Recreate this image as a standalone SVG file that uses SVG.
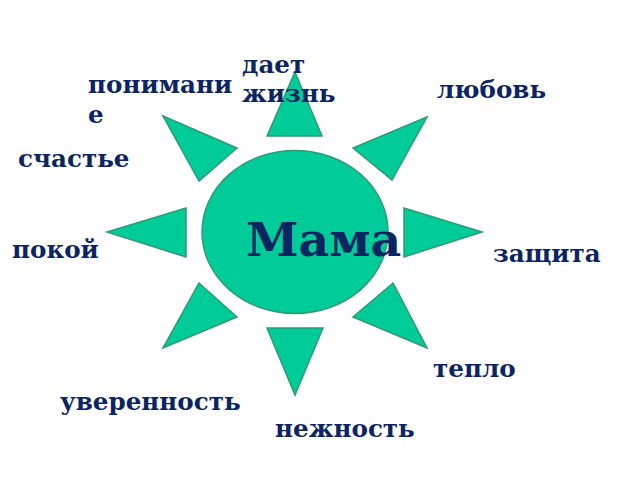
<svg xmlns="http://www.w3.org/2000/svg" width="640" height="480" viewBox="0 0 640 480">
<style>
.ray{fill:#00CC99;stroke:#2e9b73;stroke-width:1.5;stroke-linejoin:miter}
.lbl{font-family:"DejaVu Serif","Liberation Serif",serif;font-weight:bold;font-size:24.6px;fill:#0b2462}
.big{font-family:"DejaVu Serif","Liberation Serif",serif;font-weight:bold;font-size:47.5px;fill:#0b2462}
</style>
<rect width="640" height="480" fill="#ffffff"/>
<g id="sun">
<polygon class="ray" points="295,72 322,136 267,136"/>
<polygon class="ray" points="163,116 237,148 199,181"/>
<polygon class="ray" points="427,117 353,148 392,180"/>
<polygon class="ray" points="107,232 186,208 186,257"/>
<polygon class="ray" points="482,232 404,208 404,257"/>
<polygon class="ray" points="199,283 237,317 163,348"/>
<polygon class="ray" points="393,283 353,317 427,348"/>
<polygon class="ray" points="267,328 323,328 295,395"/>
<ellipse class="ray" cx="295" cy="232" rx="93" ry="81.5"/>
</g>
<g id="mama"><text class="big" x="246" y="256">Мама</text></g>
<g id="n-ponimanie"><text class="lbl" x="88" y="93">понимани</text><text class="lbl" x="88" y="123">е</text></g>
<g id="n-daet"><text class="lbl" x="242" y="73">дает</text><text class="lbl" x="242" y="102">жизнь</text></g>
<g id="n-lubov"><text class="lbl" x="437" y="98">любовь</text></g>
<g id="n-schaste"><text class="lbl" x="18" y="167">счастье</text></g>
<g id="n-pokoy"><text class="lbl" x="12" y="258">покой</text></g>
<g id="n-zashchita"><text class="lbl" x="493" y="262">защита</text></g>
<g id="n-teplo"><text class="lbl" x="433" y="377">тепло</text></g>
<g id="n-uverennost"><text class="lbl" x="60" y="410">уверенность</text></g>
<g id="n-nezhnost"><text class="lbl" x="275" y="437">нежность</text></g>
<g id="connectors"></g>
</svg>
